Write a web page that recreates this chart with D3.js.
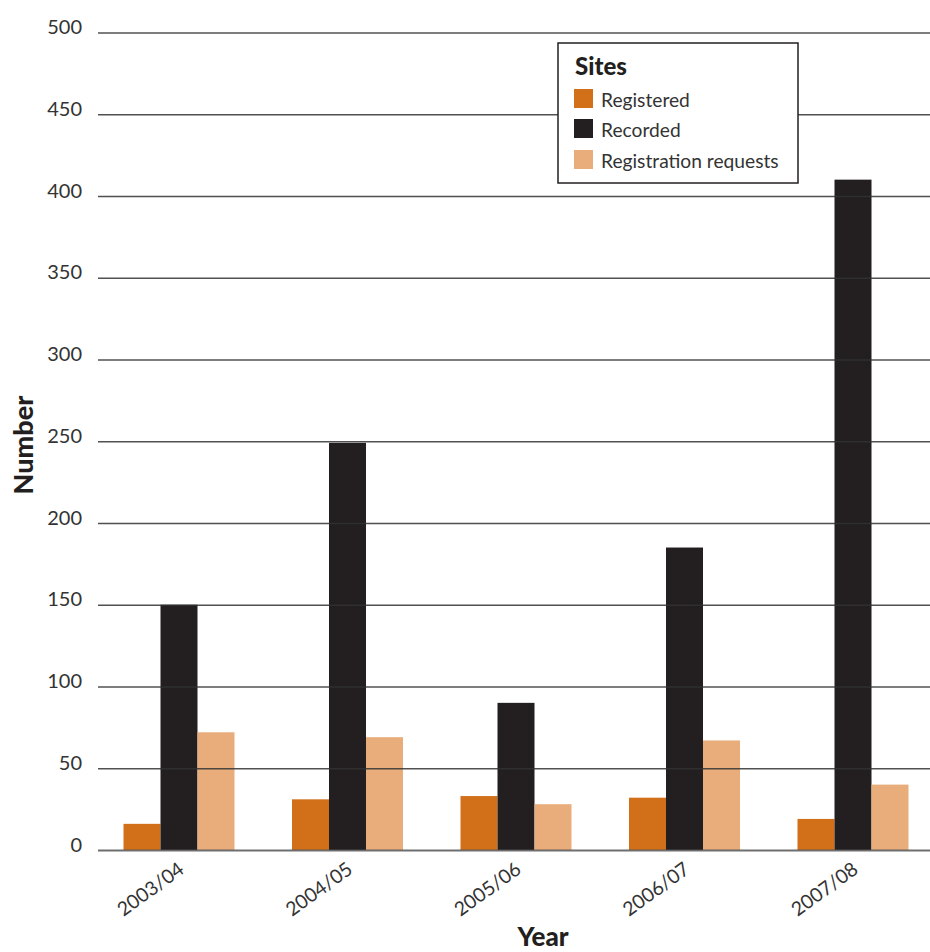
<!DOCTYPE html>
<html>
<head>
<meta charset="utf-8">
<script src="https://cdn.jsdelivr.net/npm/d3@7"></script>
<style>
  html, body { margin: 0; padding: 0; background: #fff; }
  svg { display: block; font-family: Lato, "Noto Sans", sans-serif; }
</style>
</head>
<body>
<svg id="chart" width="930" height="952"></svg>
<script>
// Sites registered, recorded and requested for registration, by financial year
const years = ["2003/04", "2004/05", "2005/06", "2006/07", "2007/08"];
const seriesNames = ["Registered", "Recorded", "Registration requests"];
const registered = [16, 31, 33, 32, 19];
const recorded = [150, 249, 90, 185, 410];
const requests = [72, 69, 28, 67, 40];
const yTicks = [0, 50, 100, 150, 200, 250, 300, 350, 400, 450, 500];
const colors = ["#D2701A", "#231F20", "#E8AD7A"];

const seriesValues = [registered, recorded, requests];
const rows = years.map((year, i) => ({
  year,
  values: seriesNames.map((name, s) => ({ name, value: seriesValues[s][i], color: colors[s] }))
}));

const svg = d3.select("#chart");

const y = d3.scaleLinear().domain([0, 500]).range([850, 32.5]);
const xCenter = d3.scalePoint().domain(years).range([179, 853]);
const xInner = d3.scaleBand().domain(seriesNames).range([-55.5, 55.5]).padding(0);

// Bars
const groups = svg.append("g").selectAll("g")
  .data(rows).join("g")
  .attr("transform", d => `translate(${xCenter(d.year)},0)`);

groups.selectAll("rect")
  .data(d => d.values).join("rect")
  .attr("x", d => xInner(d.name))
  .attr("width", xInner.bandwidth())
  .attr("y", d => y(d.value))
  .attr("height", d => y(0) - y(d.value))
  .attr("fill", d => d.color);

// Gridlines with value labels (drawn over the bars)
const yAxis = d3.axisLeft(y)
  .tickValues(yTicks)
  .tickSize(-832)
  .tickFormat(d3.format("d"));

const yg = svg.append("g")
  .attr("transform", "translate(930,0)")
  .call(yAxis);
yg.select(".domain").remove();
yg.selectAll(".tick line")
  .attr("x1", -832).attr("x2", 0)
  .attr("stroke", "#333")
  .attr("stroke-width", 1.4)
  .attr("stroke-opacity", 0.85);
yg.selectAll(".tick")
  .filter(d => d === 0)
  .select("line")
  .attr("stroke", "#555")
  .attr("stroke-width", 2.2);
yg.selectAll(".tick text")
  .attr("x", -848)
  .attr("dy", "0.05em")
  .attr("fill", "#333")
  .attr("font-size", 20)
  .attr("font-family", "Lato, sans-serif");

// Category labels along the bottom
const xAxis = d3.axisBottom(xCenter).tickSize(0);
const xg = svg.append("g").attr("transform", "translate(0,850)").call(xAxis);
xg.select(".domain").remove();
xg.selectAll(".tick text")
  .attr("text-anchor", "end")
  .attr("font-size", 19.5)
  .attr("font-family", "Lato, sans-serif")
  .attr("fill", "#333")
  .attr("dy", 0)
  .attr("y", 0)
  .attr("transform", "translate(6,22) rotate(-36)");

// Axis titles
svg.append("text")
  .attr("x", 543).attr("y", 946)
  .attr("text-anchor", "middle")
  .attr("font-size", 26)
  .attr("font-weight", 900)
  .attr("fill", "#231F20")
  .text("Year");

svg.append("text")
  .attr("transform", "translate(33,445) rotate(-90)")
  .attr("text-anchor", "middle")
  .attr("font-size", 27)
  .attr("font-weight", 900)
  .attr("fill", "#231F20")
  .text("Number");

// Legend
const legend = svg.append("g").attr("transform", "translate(558,43)");
legend.append("rect")
  .attr("width", 240).attr("height", 140)
  .attr("fill", "#fff")
  .attr("stroke", "#231F20")
  .attr("stroke-width", 1.5);
legend.append("text")
  .attr("x", 17).attr("y", 32)
  .attr("font-size", 24)
  .attr("font-weight", 900)
  .attr("fill", "#231F20")
  .text("Sites");

const items = legend.selectAll(".item")
  .data(seriesNames).join("g")
  .attr("class", "item")
  .attr("transform", (d, i) => `translate(16,${[46, 76, 107][i]})`);
items.append("rect")
  .attr("width", 19).attr("height", 19)
  .attr("fill", (d, i) => colors[i]);
items.append("text")
  .attr("x", 27).attr("y", 18)
  .attr("font-size", 19.2)
  .attr("fill", "#333")
  .text(d => d);
</script>
</body>
</html>
